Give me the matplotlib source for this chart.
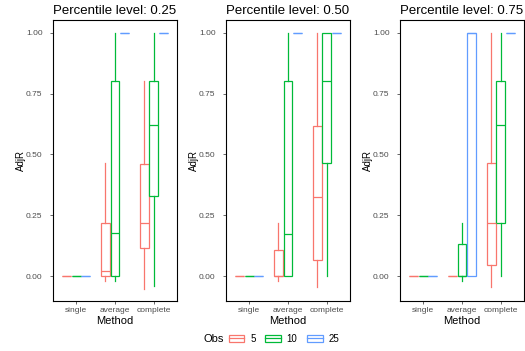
import matplotlib
matplotlib.use('Agg')
import matplotlib.pyplot as plt
from matplotlib.patches import Patch
from matplotlib.lines import Line2D

plt.rcParams['font.family'] = ['Liberation Sans', 'DejaVu Sans']

methods = ['single', 'average', 'complete']
obs_levels = ['5', '10', '25']
colors = {'5': '#F8766D', '10': '#00BA38', '25': '#619CFF'}
percentiles = ['0.25', '0.50', '0.75']

# box statistics per percentile level, per Obs group, over methods
med = {
    '0.25': {'5': [0, 0.02, 0.22], '10': [0, 0.175, 0.62], '25': [0, 1, 1]},
    '0.50': {'5': [0, 0, 0.325], '10': [0, 0.173, 0.80], '25': [0, 1, 1]},
    '0.75': {'5': [0, 0, 0.217], '10': [0, 0, 0.619], '25': [0, 1, 1]},
}
q1 = {
    '0.25': {'5': [0, 0, 0.115], '10': [0, 0, 0.33], '25': [0, 1, 1]},
    '0.50': {'5': [0, 0, 0.065], '10': [0, 0, 0.463], '25': [0, 1, 1]},
    '0.75': {'5': [0, 0, 0.046], '10': [0, 0, 0.217], '25': [0, 0, 1]},
}
q3 = {
    '0.25': {'5': [0, 0.217, 0.462], '10': [0, 0.80, 0.80], '25': [0, 1, 1]},
    '0.50': {'5': [0, 0.106, 0.618], '10': [0, 0.80, 1.0], '25': [0, 1, 1]},
    '0.75': {'5': [0, 0, 0.463], '10': [0, 0.13, 0.80], '25': [0, 1, 1]},
}
whislo = {
    '0.25': {'5': [0, -0.02, -0.055], '10': [0, -0.02, -0.042], '25': [0, 1, 1]},
    '0.50': {'5': [0, -0.02, -0.047], '10': [0, 0, 0], '25': [0, 1, 1]},
    '0.75': {'5': [0, 0, -0.047], '10': [0, -0.02, 0], '25': [0, 0, 1]},
}
whishi = {
    '0.25': {'5': [0, 0.464, 0.80], '10': [0, 1.0, 1.0], '25': [0, 1, 1]},
    '0.50': {'5': [0, 0.217, 1.0], '10': [0, 1.0, 1.0], '25': [0, 1, 1]},
    '0.75': {'5': [0, 0, 1.0], '10': [0, 0.217, 1.0], '25': [0, 1, 1]},
}

fig = plt.figure(figsize=(5.25, 3.51), dpi=100)
lefts = [53 / 525, 226 / 525, 400 / 525]
offsets = [-0.25, 0, 0.25]
grey = '#4D4D4D'

for left, p in zip(lefts, percentiles):
    ax = fig.add_axes([left, 1 - 301 / 351, 124 / 525, 281 / 351])
    for off, o in zip(offsets, obs_levels):
        stats = []
        for i in range(len(methods)):
            stats.append(dict(med=med[p][o][i], q1=q1[p][o][i], q3=q3[p][o][i],
                              whislo=whislo[p][o][i], whishi=whishi[p][o][i], fliers=[]))
        c = colors[o]
        lp = dict(color=c, linewidth=0.9)
        ax.bxp(stats, positions=[i + 1 + off for i in range(len(methods))], widths=0.23,
               showcaps=False, showfliers=False, patch_artist=True,
               boxprops=dict(facecolor='white', edgecolor=c, linewidth=0.9),
               medianprops=lp, whiskerprops=lp, manage_ticks=False)
    ax.set_xlim(0.4, 3.6)
    ax.set_ylim(-0.1025, 1.0525)
    ax.set_xticks([1, 2, 3])
    ax.set_xticklabels(methods)
    ax.set_yticks([0, 0.25, 0.5, 0.75, 1.0])
    ax.set_yticklabels(['0.00', '0.25', '0.50', '0.75', '1.00'])
    ax.tick_params(labelsize=6, colors=grey, length=2.5, width=0.6, pad=2)
    ax.tick_params(axis='y', pad=5)
    for s in ax.spines.values():
        s.set_linewidth(0.8)
        s.set_color('black')
    ax.set_xlabel('Method', fontsize=8, labelpad=1)
    ax.set_ylabel('AdjR', fontsize=7, labelpad=0)
    ax.set_title('Percentile level: ' + p, fontsize=9.5, pad=4)

handles = []
for o in obs_levels:
    handles.append((Patch(facecolor='white', edgecolor=colors[o], linewidth=0.9),
                    Line2D([], [], color=colors[o], linewidth=0.9)))
fig.text(203 / 525, 1 - 339 / 351, 'Obs', fontsize=8, va='center', ha='left')
fig.legend(handles, obs_levels, loc='center', bbox_to_anchor=(284 / 525, 1 - 339 / 351),
           ncol=3, frameon=False, fontsize=7, handlelength=1.6, handleheight=0.8,
           columnspacing=1.0, handletextpad=0.6)

fig.savefig('out.png', dpi=100)
